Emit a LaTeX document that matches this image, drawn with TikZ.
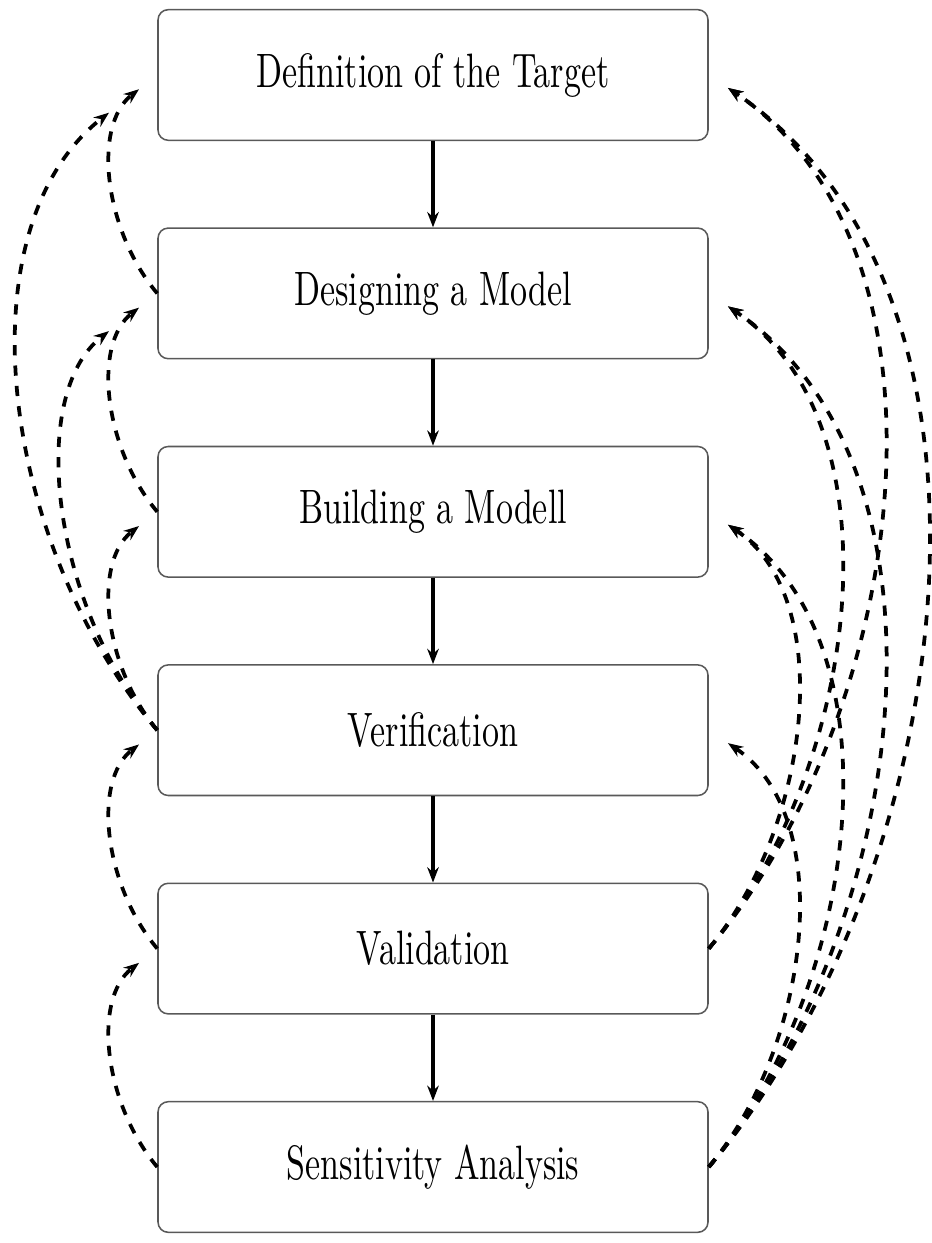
\documentclass[tikz,border=0pt]{standalone}
\usetikzlibrary{arrows.meta}
\newcommand{\stagetext}[1]{\scalebox{1}[1.42]{#1}}
\tikzset{
  stage/.style={draw=black!65, line width=0.45pt, rounded corners=3pt,
    minimum width=161.7pt, minimum height=38.4pt, inner sep=0pt},
  flow/.style={-{Stealth[length=4.5pt,width=3.4pt]}, line width=1.1pt},
  back/.style={flow, dashed, shorten >=6.8pt},
  backl/.style={back, out=130, in=218, looseness=0.97},
  backr/.style={back, out=50, in=-34, looseness=0.92},
}
\begin{document}
\begin{tikzpicture}[x=0.294pt, y=0.294pt]
\useasboundingbox (0,0) rectangle (931,-1243);
\path (433,-75) node[stage] (def) {\stagetext{Definition of the Target}};
\path (def) ++(0,-218.4) node[stage] (des) {\stagetext{Designing a Model}};
\path (des) ++(0,-218.4) node[stage] (build) {\stagetext{Building a Modell}};
\path (build) ++(0,-218.4) node[stage] (ver) {\stagetext{Verification}};
\path (ver) ++(0,-218.4) node[stage] (val) {\stagetext{Validation}};
\path (val) ++(0,-218.4) node[stage] (sens) {\stagetext{Sensitivity Analysis}};
\foreach \a/\b in {def/des, des/build, build/ver, ver/val, val/sens}
  \draw[flow] (\a) -- (\b);
\draw[backl] (des.west) to (def.west);
\draw[backl] (build.west) to (des.west);
\draw[backl] (ver.west) to (build.west);
\draw[backl] (val.west) to (ver.west);
\draw[backl] (sens.west) to (val.west);
\draw[backl, shorten >=18pt] (ver.west) to (des.west);
\draw[backl, shorten >=18pt] (ver.west) to (def.west);
\draw[backr] (val.east) to (def.east);
\draw[backr] (val.east) to (des.east);
\draw[backr] (val.east) to (build.east);
\draw[backr] (sens.east) to (def.east);
\draw[backr] (sens.east) to (des.east);
\draw[backr] (sens.east) to (build.east);
\draw[backr] (sens.east) to (ver.east);
\end{tikzpicture}
\end{document}
